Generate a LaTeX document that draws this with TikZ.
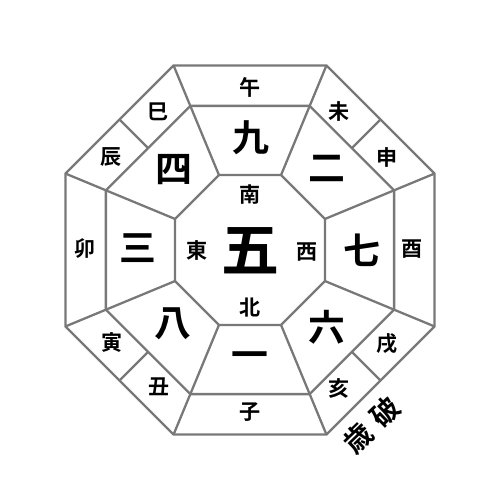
\documentclass[tikz,border=0pt]{standalone}
\usepackage{fontspec}
\setmainfont{Noto Sans CJK JP}[BoldFont={Noto Sans CJK JP Bold}]
\tikzset{
  ln/.style={draw=black!53, line width=1.3pt, line join=miter},
  small/.style={font=\fontsize{12}{12}\selectfont\bfseries, inner sep=0pt},
  num/.style={font=\fontsize{21}{21}\selectfont\bfseries, inner sep=0pt},
  big/.style={font=\fontsize{33}{33}\selectfont\bfseries, inner sep=0pt},
  label/.style={font=\fontsize{16}{16}\selectfont\bfseries, inner sep=0pt}
}
\begin{document}
\begin{tikzpicture}[x=0.02cm,y=-0.02cm]
\useasboundingbox (0,0) rectangle (500,500);
\begin{scope}[shift={(250,250)}]
\foreach \i in {0,...,7} {
  \coordinate (O\i) at (22.5+45*\i:199.7);
  \coordinate (M\i) at (22.5+45*\i:156);
  \coordinate (I\i) at (22.5+45*\i:81.2);
}
\foreach \i in {0,1,2,3} {
  \coordinate (OD\i) at (45+90*\i:184.5);
  \coordinate (MD\i) at (45+90*\i:144);
}
\draw[ln] (O0)--(O1)--(O2)--(O3)--(O4)--(O5)--(O6)--(O7)--cycle;
\draw[ln] (M0)--(M1)--(M2)--(M3)--(M4)--(M5)--(M6)--(M7)--cycle;
\draw[ln] (I0)--(I1)--(I2)--(I3)--(I4)--(I5)--(I6)--(I7)--cycle;
\foreach \i in {0,...,7} {
  \draw[ln] (O\i)--(M\i);
  \draw[ln] (M\i)--(I\i);
}
\foreach \i in {0,1,2,3} { \draw[ln] (OD\i)--(MD\i); }
\end{scope}
% branches
\node[small] (wu)  at (250,87)  {午};
\node[small] (wei) at (339,111) {未};
\node[small] (shen) at (387,157) {申};
\node[small] (you) at (412,249) {酉};
\node[small] (xu)  at (387,344) {戌};
\node[small] (hai) at (339,388) {亥};
\node[small] (zi)  at (250,412) {子};
\node[small] (chou) at (159,387) {丑};
\node[small] (yin) at (112,343) {寅};
\node[small] (mao) at (85,249)  {卯};
\node[small] (chen) at (111,157) {辰};
\node[small] (si)  at (158,112) {巳};
% numbers
\node[num] (n9) at (251,138) {九};
\node[num] (n2) at (327,168) {二};
\node[num] (n7) at (362,250) {七};
\node[num] (n6) at (327,327) {六};
\node[num] (n1) at (250,360) {一};
\node[num] (n8) at (173,324) {八};
\node[num] (n3) at (138,248) {三};
\node[num] (n4) at (174,170) {四};
\node[big] (n5) at (250,251) {五};
% directions
\node[small] (s) at (250,195) {南};
\node[small] (e) at (197,250) {東};
\node[small] (w) at (307,252) {西};
\node[small] (n) at (250,308) {北};
\node[label, rotate=44] (sui) at (358,438) {歳};
\node[label, rotate=44] (po) at (385,412) {破};
\end{tikzpicture}
\end{document}
